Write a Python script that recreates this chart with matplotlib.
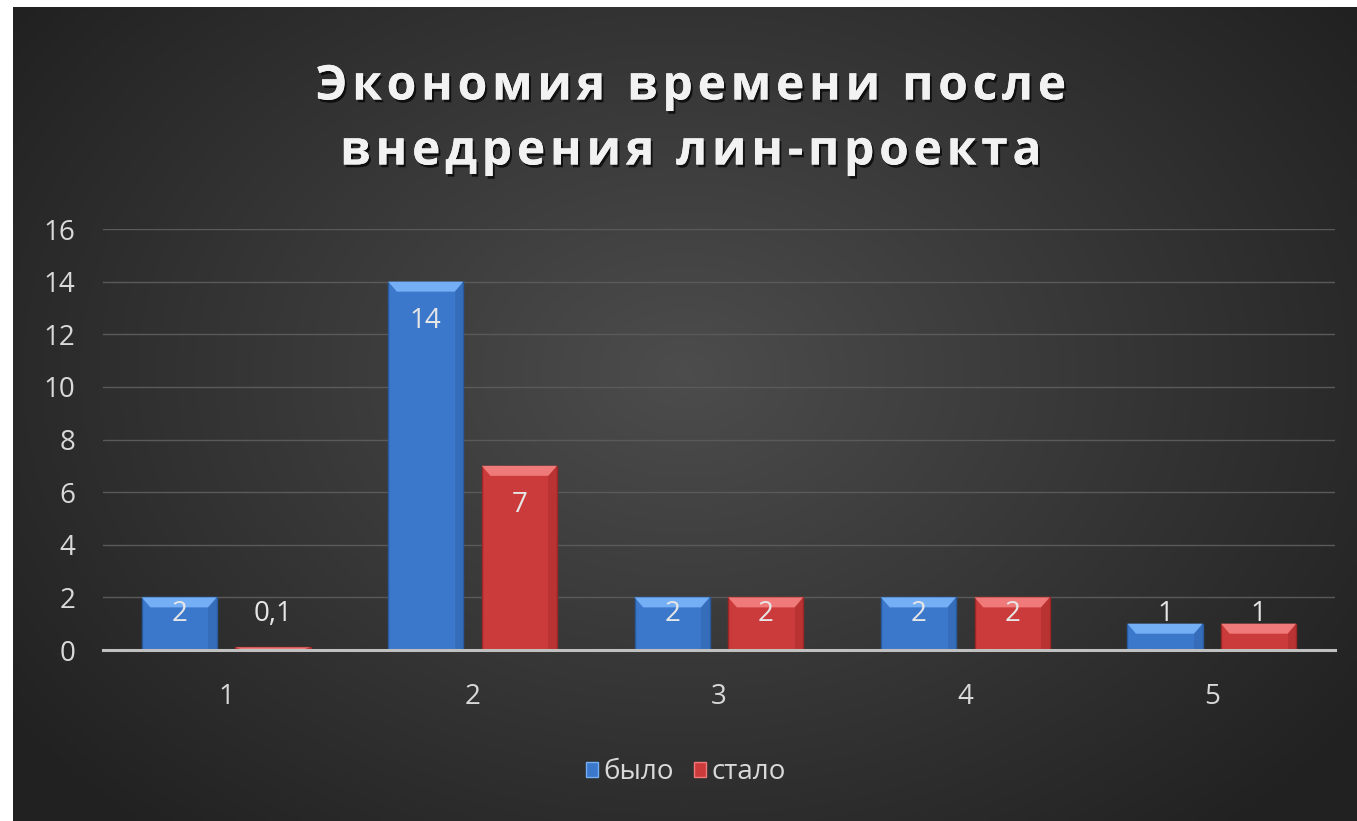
import numpy as np
import matplotlib.pyplot as plt
import matplotlib.patheffects as pe
from matplotlib.patches import Patch, Polygon

# data
categories = ['1', '2', '3', '4', '5']
bylo = [2, 14, 2, 2, 1]
stalo = [0.1, 7, 2, 2, 1]
labels_bylo = ['2', '14', '2', '2', '1']
labels_stalo = ['0,1', '7', '2', '2', '1']
yticks = [0, 2, 4, 6, 8, 10, 12, 14, 16]

title1 = 'Экономия времени после'
title2 = 'внедрения лин-проекта'

W, H = 1357, 821
fig = plt.figure(figsize=(W / 100, H / 100), dpi=100)
fig.patch.set_facecolor('white')
plt.rcParams['font.family'] = ['Open Sans', 'DejaVu Sans']

# dark panel with radial gradient
bg = fig.add_axes([13 / W, 0, 1 - 13 / W, 1 - 7 / H])
yy, xx = np.mgrid[0:1:300j, 0:1:500j]
r = np.sqrt(((xx - 0.5) / 0.62) ** 2 + ((yy - 0.45) / 0.75) ** 2)
g = np.clip(0.30 - 0.17 * r, 0.13, 0.30)
bg.imshow(np.dstack([g, g, g]), aspect='auto', extent=[0, 1, 0, 1], interpolation='bicubic')
bg.set_axis_off()

ax = fig.add_axes([103 / W, (H - 650) / H, 1232 / W, 421 / H])
ax.set_facecolor('none')

x = np.arange(1, len(categories) + 1)
width = 0.305
off = 0.19
fs = 20

series = [
    (x - off, bylo, labels_bylo, '#3b78cc', '#74aef5', '#2a5a9e'),
    (x + off, stalo, labels_stalo, '#cc3b3b', '#f07a7a', '#9a2626'),
]

for xs, vals, labs, col, light, dark in series:
    ax.bar(xs, vals, width, color=col, edgecolor=dark, linewidth=1, zorder=3)
    for xi, v, lab in zip(xs, vals, labs):
        # bevel on top of each bar
        h = min(0.38, v)
        d = 0.035
        x0, x1 = xi - width / 2, xi + width / 2
        ax.add_patch(Polygon([(x0, v), (x1, v), (x1 - d, v - h), (x0 + d, v - h)],
                             closed=True, facecolor=light, edgecolor='none', zorder=4))
        ax.add_patch(Polygon([(x1, v), (x1, 0), (x1 - d, 0), (x1 - d, v - h)],
                             closed=True, facecolor=dark, alpha=0.35, edgecolor='none', zorder=4))
        ty = max(v - 1.48, 1.35)
        ax.text(xi, ty, lab, ha='center', va='center', color='#e6e6e6', fontsize=fs, zorder=5)

ax.set_xlim(0.5, 5.5)
ax.set_ylim(0, 16)
ax.set_yticks(yticks)
ax.set_xticks(x)
ax.set_xticklabels(categories)
ax.tick_params(axis='both', length=0, colors='#d9d9d9', labelsize=fs)
ax.tick_params(axis='y', pad=20)
ax.tick_params(axis='x', pad=24)
ax.grid(axis='y', color='#5a5a5a', linewidth=1, zorder=0)
ax.set_axisbelow(True)
for s in ['top', 'right', 'left']:
    ax.spines[s].set_visible(False)
ax.spines['bottom'].set_color('#c0c0c0')
ax.spines['bottom'].set_linewidth(2.2)
ax.spines['bottom'].set_zorder(6)

handles = [Patch(facecolor='#3b78cc', edgecolor='#74aef5', label='было'),
           Patch(facecolor='#cc3b3b', edgecolor='#f07a7a', label='стало')]
fig.legend(handles=handles, loc='center', bbox_to_anchor=(686 / W, 1 - 772 / H), ncol=2,
           frameon=False, fontsize=fs, labelcolor='#d9d9d9', handlelength=0.45,
           handleheight=0.45, handletextpad=0.2, columnspacing=0.7)

shadow = [pe.withSimplePatchShadow(offset=(1.5, -2), shadow_rgbFace='black', alpha=0.7), pe.Normal()]
sp = '\u200a'
fig.text(690 / W, 1 - 87 / H, sp.join(title1), ha='center', va='center', fontsize=34.5,
         fontweight='bold', color='#f2f2f2', path_effects=shadow)
fig.text(690 / W, 1 - 152 / H, sp.join(title2), ha='center', va='center', fontsize=34.5,
         fontweight='bold', color='#f2f2f2', path_effects=shadow)

fig.savefig('out.png', dpi=100, facecolor=fig.get_facecolor())
